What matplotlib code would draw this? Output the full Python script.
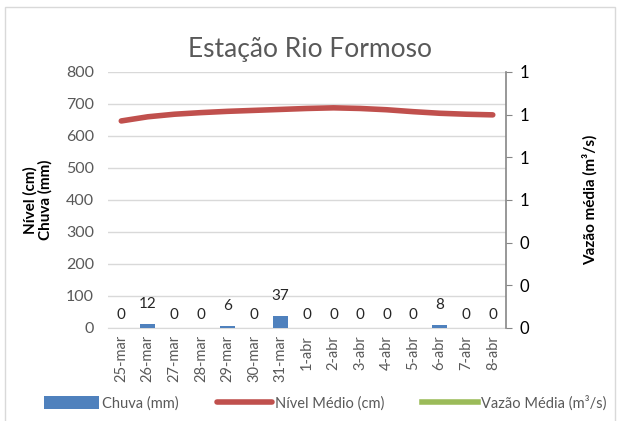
import matplotlib
matplotlib.use("Agg")
import matplotlib.pyplot as plt
from matplotlib.patches import Rectangle
import numpy as np

plt.rcParams['font.family'] = ['Lato', 'DejaVu Sans']

datas = ["25-mar", "26-mar", "27-mar", "28-mar", "29-mar", "30-mar", "31-mar",
         "1-abr", "2-abr", "3-abr", "4-abr", "5-abr", "6-abr", "7-abr", "8-abr"]
chuva = [0, 12, 0, 0, 6, 0, 37, 0, 0, 0, 0, 0, 8, 0, 0]
nivel = [647, 660, 668, 673, 677, 680, 683, 686, 688, 686, 682, 676, 671, 668, 666]
vazao = [np.nan] * len(datas)  # sem dados no periodo

cinza = "#595959"
x = np.arange(len(datas))

fig = plt.figure(figsize=(6.19, 4.21), dpi=100)
fig.patches.append(Rectangle((5 / 619, -0.01), 610 / 619, 1 - 7 / 421 + 0.01,
                             transform=fig.transFigure, fill=False,
                             edgecolor="#D9D9D9", linewidth=1))
ax = fig.add_axes([0.1745, 0.221, 0.643, 0.608])
ax2 = ax.twinx()

barras = ax.bar(x, chuva, width=0.56, color="#4F81BD", label="Chuva (mm)", zorder=3)
linha, = ax.plot(x, nivel, color="#C0504D", linewidth=4, solid_capstyle="round",
                 label="Nível Médio (cm)", zorder=4)
linha2, = ax2.plot(x, vazao, color="#9BBB59", linewidth=4, label="Vazão Média (m³/s)")

for xi, v in zip(x, chuva):
    off = 14.5 if v > 0 else 9
    ax.annotate(str(v), (xi, v), xytext=(0, off), textcoords="offset points",
                ha="center", va="center", fontsize=11, color="#262626")

ax.set_ylim(0, 800)
ax.set_yticks(range(0, 801, 100))
ax.set_xlim(-0.5, len(datas) - 0.5)
ax.set_xticks(x)
ax.set_xticklabels(datas, rotation=90, fontsize=10.5, color=cinza)
ax.tick_params(axis="y", length=0, labelsize=11.5, labelcolor=cinza, pad=10)
ax.tick_params(axis="x", length=0, pad=5)
ax.grid(axis="y", color="#D9D9D9", linewidth=1, zorder=0)
ax.set_axisbelow(True)
for s in ["top", "right", "left"]:
    ax.spines[s].set_visible(False)
ax.spines["bottom"].set_color("#D9D9D9")

ax2.set_ylim(0, 1.2)
ax2.set_yticks(np.arange(0, 1.21, 0.2))
ax2.yaxis.set_major_formatter(matplotlib.ticker.FormatStrFormatter("%.0f"))
ax2.tick_params(axis="y", length=4, color="#868686", labelsize=12, labelcolor="black", pad=6)
for s in ["top", "left", "bottom"]:
    ax2.spines[s].set_visible(False)
ax2.spines["right"].set_color("#868686")
ax2.spines["right"].set_linewidth(1.2)

ax.set_ylabel("Nível (cm)\nChuva (mm)", fontsize=11, fontweight="bold", labelpad=10,
              linespacing=1.0)
ax2.set_ylabel("Vazão média (m³/s)", fontsize=11, fontweight="bold", labelpad=38)

fig.text(0.5, 0.882, "Estação Rio Formoso", ha="center", va="center",
         fontsize=19, color=cinza)

fig.legend([barras, linha, linha2], ["Chuva (mm)", "Nível Médio (cm)", "Vazão Média (m³/s)"],
           loc="center", bbox_to_anchor=(0.525, 0.043), ncol=3, frameon=False,
           fontsize=10.5, labelcolor=cinza, handlelength=3.8, handletextpad=0.2,
           columnspacing=2.6, handleheight=0.9)

fig.savefig("out.png", dpi=100)
